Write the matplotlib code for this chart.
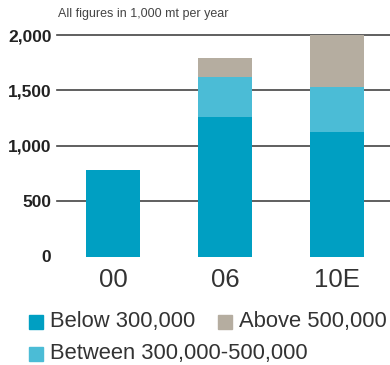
import matplotlib
matplotlib.use('Agg')
import matplotlib.pyplot as plt
from matplotlib.patches import Rectangle
import numpy as np

plt.rcParams['font.family'] = ['Liberation Sans', 'DejaVu Sans']

# figures in 1,000 mt per year
years = ['00', '06', '10E']
below_300k = [780, 1260, 1125]
between_300k_500k = [0, 360, 407]
above_500k = [0, 175, 468]

series_names = ['Below 300,000', 'Between 300,000-500,000', 'Above 500,000']
colors = ['#009fc2', '#4bbcd6', '#b5ada0']
y_ticks = [0, 500, 1000, 1500, 2000]

fig = plt.figure(figsize=(3.9, 3.65), dpi=100)
ax = fig.add_axes([57 / 390, 108.5 / 365, 333 / 390, 221.5 / 365])

x = np.arange(len(years))
width = 0.482

# gridlines sit behind the stacked bars
for t in y_ticks[1:]:
    ax.axhline(t, color='#444444', lw=1.2, zorder=0, clip_on=False)

bottom = np.zeros(len(years))
for vals, col in zip([below_300k, between_300k_500k, above_500k], colors):
    ax.bar(x, vals, width, bottom=bottom, color=col, zorder=2, linewidth=0)
    bottom += np.array(vals)

ax.set_xlim(-0.5, 2.473)
ax.set_ylim(0, 2000)
ax.set_yticks(y_ticks)
ax.set_yticklabels(['{:,}'.format(t) for t in y_ticks], fontsize=12.5,
                   fontweight='bold', color='#222222')
ax.set_xticks(x)
ax.set_xticklabels(years, fontsize=18.5, color='#333333')
ax.tick_params(axis='both', length=0)
ax.tick_params(axis='y', pad=4)
ax.tick_params(axis='x', pad=8)
for s in ax.spines.values():
    s.set_visible(False)

fig.text(58 / 390, 1 - 14 / 365, 'All figures in 1,000 mt per year',
         fontsize=9, color='#444444', va='center', ha='left')

# legend drawn by hand so "Above" follows straight after "Below"
legend_pos = [(29, 322), (29, 354), (218, 322)]
for (px, py), name, col in zip(legend_pos, series_names, colors):
    fig.patches.append(Rectangle((px / 390, 1 - (py + 7) / 365), 14 / 390, 14 / 365,
                                 transform=fig.transFigure, color=col))
    fig.text((px + 21) / 390, 1 - py / 365, name, fontsize=15.8,
             color='#333333', va='center', ha='left')

fig.savefig('out.png', dpi=100)
